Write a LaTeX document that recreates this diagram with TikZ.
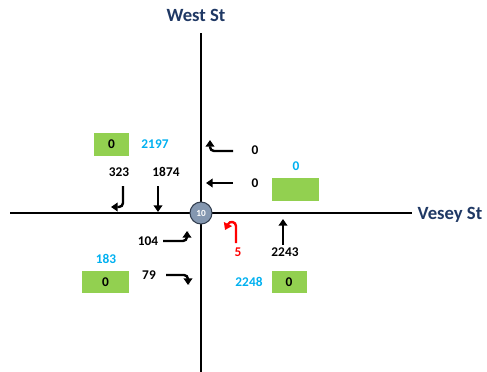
\documentclass[tikz,border=0pt]{standalone}
\usepackage{fontspec}
\setmainfont{Carlito}
\usetikzlibrary{arrows.meta}

\definecolor{streetblue}{HTML}{1F3864}
\definecolor{totalcyan}{HTML}{00B0F0}
\definecolor{boxgreen}{HTML}{92D050}
\definecolor{nodegrey}{HTML}{8497B0}
\definecolor{nodeedge}{HTML}{333F50}

\tikzstyle{street} = [font=\fontsize{14}{16}\selectfont\bfseries, text=streetblue, inner sep=0pt]
\tikzstyle{count} = [font=\fontsize{10}{12}\selectfont\bfseries, inner sep=0pt]
\tikzstyle{total} = [count, text=totalcyan]
\tikzstyle{greenbox} = [count, rectangle, minimum width=26.25pt, minimum height=17pt, text centered, fill=boxgreen]
\tikzstyle{junction} = [circle, minimum size=16.5pt, inner sep=0pt, draw=nodeedge, line width=0.8pt, fill=nodegrey, text=white, font=\fontsize{7}{8}\selectfont\bfseries]
\tikzstyle{road} = [line width=1.3pt]
\tikzstyle{arrow} = [line width=1.8pt, rounded corners=3pt, -{Triangle[length=5pt,width=6.5pt]}]

\begin{document}
\begin{tikzpicture}[x=0.75pt, y=-0.75pt]
\useasboundingbox (0,0) rectangle (487,372);

% streets
\coordinate (north_end) at (201,33);
\coordinate (south_end) at (201,372);
\coordinate (west_end) at (10,213);
\coordinate (east_end) at (412,213);
\draw [road] (north_end) -- (south_end);
\draw [road] (west_end) -- (east_end);
\node (west_st) [street] at (196,15) {West St};
\node (vesey_st) [street] at (450,215) {Vesey St};
\node (int10) [junction] at (201,213) {10};

% southbound
\node (sb_box) [greenbox] at (111.5,144.5) {0};
\node (sb_total) [total] at (155,144) {2197};
\node (sb_right) [count] at (119,172) {323};
\node (sb_thru) [count] at (166,172) {1874};
\draw [arrow] (123,186) -- (123,207) -- (111,207);
\draw [arrow] (158,186) -- (158,212);

% westbound
\node (wb_right) [count] at (255,150) {0};
\node (wb_thru) [count] at (255,183) {0};
\node (wb_total) [total] at (296,166) {0};
\node (wb_box) [greenbox, minimum width=35.25pt] at (295.5,189.5) {};
\draw [arrow] (233,151) -- (210,151) -- (210,140);
\draw [arrow] (233,183) -- (206,183);

% northbound
\node (nb_left) [count, text=red] at (238,252) {5};
\node (nb_thru) [count] at (285,252) {2243};
\node (nb_total) [total] at (249,282) {2248};
\node (nb_box) [greenbox] at (289,282) {0};
\draw [arrow, red] (236,243) -- (236,230) .. controls (236,222) and (230,220) .. (225,230);
\draw [arrow] (283,245) -- (283,219);

% eastbound
\node (eb_left) [count] at (148,241) {104};
\node (eb_right) [count] at (149,275) {79};
\node (eb_total) [total] at (106,259) {183};
\node (eb_box) [greenbox, minimum width=35.25pt] at (105.5,282) {0};
\draw [arrow] (163,241) -- (187,241) -- (187,231);
\draw [arrow] (166,275) -- (188,275) -- (188,285);
\end{tikzpicture}
\end{document}
